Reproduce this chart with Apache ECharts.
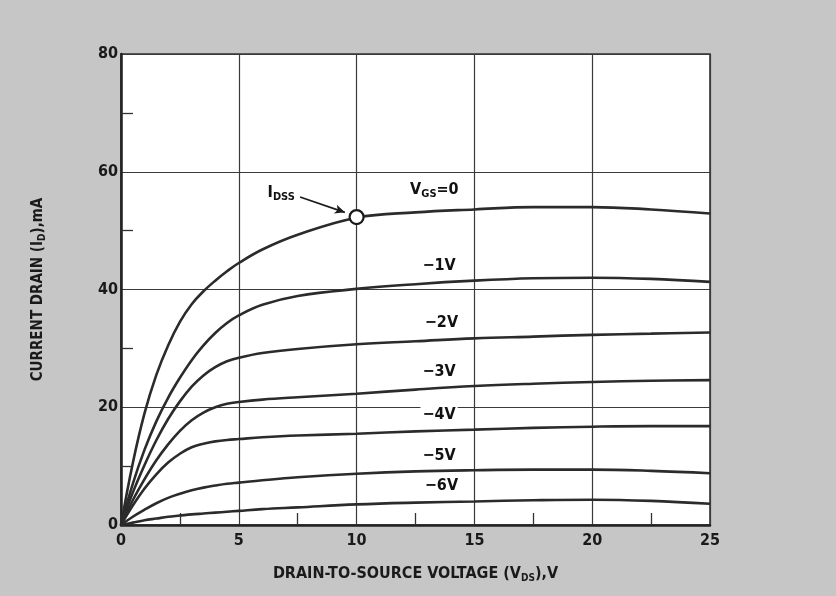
<!DOCTYPE html>
<html><head><meta charset="utf-8">
<script src="https://cdn.jsdelivr.net/npm/echarts@6/dist/echarts.min.js"></script>
<style>html,body{margin:0;padding:0;background:#c6c6c6;}#c{width:836px;height:596px;}</style>
</head><body><div id="c"></div>
<script>
// Drain-to-source voltage sample points (V)
const vds = [0, 0.5, 1, 1.5, 2, 2.5, 3, 3.5, 4, 4.5, 5, 6, 7.5, 10, 12.5, 15, 17.5, 20, 22.5, 25];
// Drain current (mA) for each gate-source voltage
const id_vgs0  = [0, 10.5, 19, 25.5, 30.5, 34.5, 37.5, 39.7, 41.5, 43.1, 44.5, 46.8, 49.3, 52.2, 53.1, 53.6, 54, 54, 53.6, 52.9];
const id_vgsm1 = [0, 7, 12.8, 17.6, 21.6, 25, 28, 30.5, 32.6, 34.3, 35.6, 37.4, 38.9, 40.1, 40.9, 41.5, 41.9, 42, 41.8, 41.3];
const id_vgsm2 = [0, 5.5, 10.2, 14.4, 18, 21, 23.5, 25.4, 26.8, 27.8, 28.4, 29.2, 29.9, 30.7, 31.2, 31.7, 32, 32.3, 32.5, 32.7];
const id_vgsm3 = [0, 4.2, 7.8, 11, 13.7, 16, 17.8, 19.1, 20, 20.6, 20.9, 21.3, 21.7, 22.3, 23, 23.6, 24, 24.3, 24.5, 24.6];
const id_vgsm4 = [0, 3.3, 6.2, 8.6, 10.6, 12.1, 13.2, 13.8, 14.2, 14.45, 14.6, 14.9, 15.2, 15.5, 15.9, 16.2, 16.5, 16.7, 16.8, 16.8];
const id_vgsm5 = [0, 1.4, 2.6, 3.7, 4.6, 5.3, 5.9, 6.35, 6.7, 7.0, 7.2, 7.6, 8.1, 8.7, 9.1, 9.3, 9.4, 9.4, 9.2, 8.8];
const id_vgsm6 = [0, 0.4, 0.8, 1.1, 1.4, 1.6, 1.8, 1.95, 2.1, 2.25, 2.4, 2.7, 3.0, 3.5, 3.8, 4.0, 4.2, 4.3, 4.1, 3.6];
const curves = [id_vgs0, id_vgsm1, id_vgsm2, id_vgsm3, id_vgsm4, id_vgsm5, id_vgsm6];
// Curve labels and their positions (V, mA)
const curveLabels = ['V_GS=0', '−1V', '−2V', '−3V', '−4V', '−5V', '−6V'];
const labelPos = [[13.3, 56.9], [13.5, 44.1], [13.6, 34.4], [13.5, 26.0], [13.5, 18.7], [13.5, 11.7], [13.6, 6.6]];
// I_DSS point and annotation
const idss = [10, 52.3];
const idssLabelPos = [6.8, 56.4];
const idssArrow = [[7.6, 55.7], [9.5, 53.1]];
// Axis ticks
const xTicks = [0, 5, 10, 15, 20, 25];
const yTicks = [0, 20, 40, 60, 80];

const FONT = "'Liberation Sans Narrow','DejaVu Sans Condensed','Roboto Condensed',sans-serif";
const chart = echarts.init(document.getElementById('c'), null, {renderer: 'canvas'});

const lineSeries = curves.map((arr, i) => ({
  type: 'line', smooth: 0.4, symbol: 'none', z: 3,
  data: vds.map((v, k) => [v, arr[k]]),
  lineStyle: {color: '#2b2b2b', width: 2.6}
}));

const labelData = curveLabels.map((t, i) => {
  let txt = t === 'V_GS=0' ? '{t|V}{s|GS}{t|=0}' : '{t|' + t + '}';
  return {value: labelPos[i], label: {formatter: txt}};
});

const option = {
  animation: false,
  backgroundColor: '#c6c6c6',
  grid: {left: 121, right: 126, top: 54, bottom: 71, show: true, backgroundColor: '#ffffff', borderColor: '#333', borderWidth: 1.6},
  xAxis: {
    type: 'value', min: xTicks[0], max: xTicks[xTicks.length - 1], interval: 5,
    axisLine: {show: true, onZero: false, lineStyle: {color: '#222', width: 2.5}},
    axisTick: {show: false},
    minorTick: {show: true, splitNumber: 2, length: -12, lineStyle: {color: '#333', width: 1.3}},
    splitLine: {show: true, lineStyle: {color: '#3a3a3a', width: 1.2}},
    axisLabel: {color: '#1a1a1a', fontFamily: FONT, fontWeight: 'bold', fontSize: 16, margin: 8},
    name: '{t|DRAIN-TO-SOURCE VOLTAGE (V}{s|DS}{t|),V}',
    nameLocation: 'middle', nameGap: 40,
    nameTextStyle: {rich: {
      t: {fontFamily: FONT, fontWeight: 'bold', fontSize: 16, color: '#1a1a1a'},
      s: {fontFamily: FONT, fontWeight: 'bold', fontSize: 10, color: '#1a1a1a', verticalAlign: 'bottom', padding: [8, 0, 0, 0]}
    }}
  },
  yAxis: {
    type: 'value', min: yTicks[0], max: yTicks[yTicks.length - 1], interval: 20,
    axisLine: {show: true, onZero: false, lineStyle: {color: '#222', width: 2.5}},
    axisTick: {show: false},
    minorTick: {show: true, splitNumber: 2, length: -12, lineStyle: {color: '#333', width: 1.3}},
    splitLine: {show: true, lineStyle: {color: '#3a3a3a', width: 1.2}},
    axisLabel: {color: '#1a1a1a', fontFamily: FONT, fontWeight: 'bold', fontSize: 16, margin: 3},
    name: '{t|CURRENT DRAIN (I}{s|D}{t|),mA}',
    nameLocation: 'middle', nameGap: 74, nameRotate: 90,
    nameTextStyle: {rich: {
      t: {fontFamily: FONT, fontWeight: 'bold', fontSize: 15, color: '#1a1a1a'},
      s: {fontFamily: FONT, fontWeight: 'bold', fontSize: 10, color: '#1a1a1a', padding: [8, 0, 0, 0]}
    }}
  },
  series: lineSeries.concat([
    {
      type: 'scatter', z: 5, symbol: 'circle', symbolSize: 14,
      itemStyle: {color: '#fff', borderColor: '#1a1a1a', borderWidth: 2.2, opacity: 1},
      data: [idss],
      markLine: {
        silent: true, symbol: ['none', 'arrow'], symbolSize: [7, 10],
        lineStyle: {color: '#1a1a1a', width: 1.6, type: 'solid'}, label: {show: false},
        data: [[{coord: idssArrow[0]}, {coord: idssArrow[1]}]]
      }
    },
    {
      type: 'scatter', z: 6, symbolSize: 0, silent: true,
      itemStyle: {opacity: 1},
      data: [{value: idssLabelPos, label: {formatter: '{t|I}{s|DSS}'}}].concat(labelData),
      label: {
        show: true, position: 'inside', backgroundColor: '#fff', padding: [1, 2],
        rich: {
          t: {fontFamily: FONT, fontWeight: 'bold', fontSize: 16, color: '#111'},
          s: {fontFamily: FONT, fontWeight: 'bold', fontSize: 11, color: '#111', padding: [9, 0, 0, 0]}
        }
      }
    }
  ])
};
chart.setOption(option);
</script></body></html>
